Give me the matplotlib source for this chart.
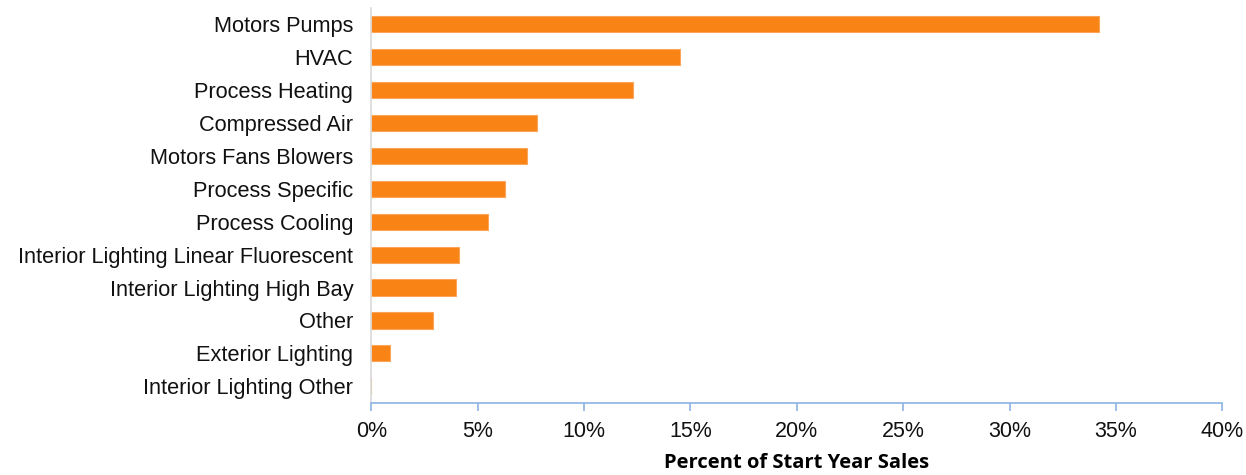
import matplotlib.pyplot as plt
from matplotlib.ticker import PercentFormatter

categories = [
    "Motors Pumps",
    "HVAC",
    "Process Heating",
    "Compressed Air",
    "Motors Fans Blowers",
    "Process Specific",
    "Process Cooling",
    "Interior Lighting Linear Fluorescent",
    "Interior Lighting High Bay",
    "Other",
    "Exterior Lighting",
    "Interior Lighting Other",
]
share = [34.2, 14.5, 12.3, 7.8, 7.3, 6.3, 5.5, 4.1, 4.0, 2.9, 0.9, 0.0]

plt.rcParams['font.family'] = ['Liberation Sans', 'DejaVu Sans']

fig = plt.figure(figsize=(12.46, 4.75), dpi=100)
ax = fig.add_axes([0.298, 0.152, 0.683, 0.832])

ax.barh(range(len(categories)), share, height=0.49, color='#F98314',
        edgecolor='#FBA55A', linewidth=0.8)

ax.set_ylim(len(categories) - 0.5, -0.5)
ax.set_yticks(range(len(categories)))
ax.set_yticklabels(categories, fontsize=15.7, color='#111111')
ax.tick_params(axis='y', length=0, pad=13)

ax.set_xlim(0, 40)
ax.set_xticks(range(0, 41, 5))
ax.xaxis.set_major_formatter(PercentFormatter(decimals=0))
ax.tick_params(axis='x', direction='out', length=6, width=1.2, color='#8DB3E2',
               labelsize=15.5, labelcolor='#111111', pad=7)

for side in ('top', 'right'):
    ax.spines[side].set_visible(False)
ax.spines['left'].set_color('#D9D9D9')
ax.spines['left'].set_linewidth(1.2)
ax.spines['bottom'].set_color('#8DB3E2')
ax.spines['bottom'].set_linewidth(1.2)

ax.set_xlabel('Percent of Start Year Sales', fontsize=14.5, fontweight='bold',
              family=['Open Sans', 'DejaVu Sans'], labelpad=8)

fig.savefig('out.png', dpi=100)
